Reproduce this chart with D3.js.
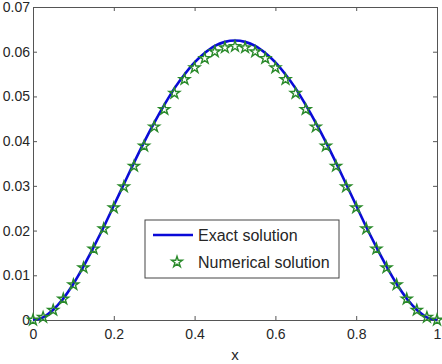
<!DOCTYPE html>
<html>
<head>
<meta charset="utf-8">
<script src="https://cdn.jsdelivr.net/npm/d3@7"></script>
<style>
  body { margin: 0; background: #fff; }
  text { font-family: "Liberation Sans", Arial, sans-serif; fill: #262626; }
</style>
</head>
<body>
<div id="chart"></div>
<script>
// grid points x = 0, 0.025, ..., 1
const xs = [0, 0.025, 0.05, 0.075, 0.1, 0.125, 0.15, 0.175, 0.2, 0.225, 0.25, 0.275, 0.3, 0.325, 0.35, 0.375, 0.4, 0.425, 0.45, 0.475, 0.5,
  0.525, 0.55, 0.575, 0.6, 0.625, 0.65, 0.675, 0.7, 0.725, 0.75, 0.775, 0.8, 0.825, 0.85, 0.875, 0.9, 0.925, 0.95, 0.975, 1];
const exact = [0, 0.0006, 0.0023, 0.0048, 0.0081, 0.0120, 0.0163, 0.0208, 0.0256, 0.0304, 0.0352, 0.0398, 0.0441, 0.0481, 0.0518, 0.0549, 0.0576, 0.0597, 0.0613, 0.0622, 0.0625,
  0.0622, 0.0613, 0.0597, 0.0576, 0.0549, 0.0518, 0.0481, 0.0441, 0.0398, 0.0352, 0.0304, 0.0256, 0.0208, 0.0163, 0.0120, 0.0081, 0.0048, 0.0023, 0.0006, 0];
const numerical = [0, 0.0006, 0.0022, 0.0047, 0.0079, 0.0117, 0.0159, 0.0204, 0.0251, 0.0298, 0.0344, 0.0389, 0.0432, 0.0471, 0.0507, 0.0538, 0.0564, 0.0585, 0.0600, 0.0609, 0.0612,
  0.0609, 0.0600, 0.0585, 0.0564, 0.0538, 0.0507, 0.0471, 0.0432, 0.0389, 0.0344, 0.0298, 0.0251, 0.0204, 0.0159, 0.0117, 0.0079, 0.0047, 0.0022, 0.0006, 0];
const xTicks = [0, 0.2, 0.4, 0.6, 0.8, 1];
const yTicks = [0, 0.01, 0.02, 0.03, 0.04, 0.05, 0.06, 0.07];
const seriesNames = ['Exact solution', 'Numerical solution'];

const W = 442, H = 364;
const margin = { top: 7, right: 5, bottom: 44, left: 33 };
const width = W - margin.left - margin.right;
const height = H - margin.top - margin.bottom;
const lineColor = '#0a0ad8';
const starColor = '#2a8a2a';
const axisColor = '#555';

const svg = d3.select('#chart').append('svg')
  .attr('width', W)
  .attr('height', H)
  .append('g')
  .attr('transform', `translate(${margin.left},${margin.top})`);

const x = d3.scaleLinear().domain([0, 1]).range([0, width]);
const y = d3.scaleLinear().domain([0, 0.07]).range([height, 0]);

// box with inward ticks on all four sides
const fmt = d => d === 0 ? '0' : String(d);
const styleAxis = g => {
  g.select('.domain').attr('stroke', axisColor);
  g.selectAll('.tick line').attr('stroke', axisColor);
  g.selectAll('text').style('font-size', '14px').attr('fill', '#262626');
};

svg.append('g')
  .attr('transform', `translate(0,${height})`)
  .call(d3.axisBottom(x).tickValues(xTicks).tickFormat(fmt).tickSizeInner(-4).tickSizeOuter(0).tickPadding(9))
  .call(styleAxis);
svg.append('g')
  .call(d3.axisLeft(y).tickValues(yTicks).tickFormat(fmt).tickSizeInner(-4).tickSizeOuter(0).tickPadding(3))
  .call(styleAxis);
svg.append('g')
  .call(d3.axisTop(x).tickValues(xTicks).tickFormat('').tickSizeInner(-4).tickSizeOuter(0))
  .call(styleAxis);
svg.append('g')
  .attr('transform', `translate(${width},0)`)
  .call(d3.axisRight(y).tickValues(yTicks).tickFormat('').tickSizeInner(-4).tickSizeOuter(0))
  .call(styleAxis);

// x label
svg.append('text')
  .attr('x', x(0.5))
  .attr('y', height + 40)
  .attr('text-anchor', 'middle')
  .style('font-size', '15px')
  .text('x');

// exact solution line
const line = d3.line()
  .x((d, i) => x(xs[i]))
  .y(d => y(d))
  .curve(d3.curveCatmullRom);

svg.append('path')
  .datum(exact)
  .attr('fill', 'none')
  .attr('stroke', lineColor)
  .attr('stroke-width', 2.6)
  .attr('d', line);

// numerical solution stars
const star = d3.symbol().type(d3.symbolStar).size(36);
svg.append('g')
  .selectAll('path')
  .data(numerical)
  .join('path')
    .attr('transform', (d, i) => `translate(${x(xs[i])},${y(d)})`)
    .attr('d', star)
    .attr('fill', 'none')
    .attr('stroke', starColor)
    .attr('stroke-width', 1.4);

// legend
const legend = svg.append('g').attr('transform', `translate(${145 - margin.left},${220 - margin.top})`);
legend.append('rect')
  .attr('width', 194)
  .attr('height', 58)
  .attr('fill', '#fff')
  .attr('stroke', '#444')
  .attr('stroke-width', 1);
legend.append('line')
  .attr('x1', 8).attr('x2', 48)
  .attr('y1', 15).attr('y2', 15)
  .attr('stroke', lineColor)
  .attr('stroke-width', 2.6);
legend.append('path')
  .attr('transform', 'translate(32,42)')
  .attr('d', star)
  .attr('fill', 'none')
  .attr('stroke', starColor)
  .attr('stroke-width', 1.4);
legend.selectAll('text.lab')
  .data(seriesNames)
  .join('text')
    .attr('class', 'lab')
    .attr('x', 53)
    .attr('y', (d, i) => 21 + i * 27)
    .style('font-size', '16px')
    .text(d => d);
</script>
</body>
</html>
